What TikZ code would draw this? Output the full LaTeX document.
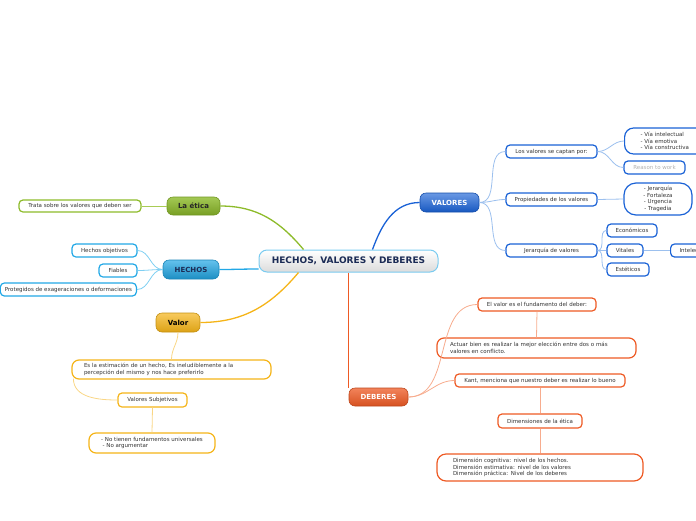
\documentclass[tikz,border=0pt]{standalone}
\usepackage{fontspec}
\setmainfont{DejaVu Sans}
\usepackage{xcolor}
\usetikzlibrary{positioning}
\definecolor{tinta}{HTML}{333333}
\definecolor{marino}{HTML}{1B2B55}
\definecolor{azul}{HTML}{1A62D6}
\definecolor{azulclaro}{HTML}{9CC0EE}
\definecolor{celeste}{HTML}{22A8E6}
\definecolor{celesteclaro}{HTML}{7FCFF2}
\definecolor{verde}{HTML}{8DBB2A}
\definecolor{verdeclaro}{HTML}{A9CC55}
\definecolor{ambar}{HTML}{F5B418}
\definecolor{ambarclaro}{HTML}{F9D685}
\definecolor{naranja}{HTML}{EE5A24}
\definecolor{naranjaclaro}{HTML}{F7AC8E}

\begin{document}
\begin{tikzpicture}[x=1pt, y=-1pt,
      raiz/.style={rectangle, rounded corners=8pt, draw=celeste!60, line width=1pt,
                   top color=white, bottom color=gray!28, text=marino,
                   font=\fontsize{9}{10}\selectfont\bfseries,
                   minimum width=179pt, minimum height=22pt},
      rama/.style={rectangle, rounded corners=6pt, line width=0.6pt,
                   font=\fontsize{7}{8}\selectfont\bfseries, minimum height=19pt},
      hoja/.style={rectangle, rounded corners=4pt, line width=1.2pt, fill=white,
                   text=tinta, font=\fontsize{5.5}{6.6}\selectfont,
                   minimum height=13pt, inner xsep=4.5pt, inner ysep=1pt},
      hojaazul/.style={hoja, draw=azul},
      hojaceleste/.style={hoja, draw=celeste},
      hojaverde/.style={hoja, draw=verde},
      hojaambar/.style={hoja, draw=ambar},
      hojanaranja/.style={hoja, draw=naranja},
      enlace/.style={line width=0.8pt}]

    \useasboundingbox (0,0) rectangle (696,520);

    % tema central y ramas
    \node[raiz] (root) at (348.5,261) {HECHOS, VALORES Y DEBERES};
    \node[rama, draw=azul!80!black, top color=azul!65, bottom color=azul!90!black,
          text=white, minimum width=59pt] (valores) at (449.5,202.5) {VALORES};
    \node[rama, draw=verde!80!black, top color=verde!80, bottom color=verde!85!black,
          text=black!85, minimum width=53pt, minimum height=18pt] (etica) at (193.5,206) {La ética};
    \node[rama, draw=celeste!80!black, top color=celeste!70, bottom color=celeste!85!black,
          text=marino, minimum width=56pt] (hechos) at (191,269.5) {HECHOS};
    \node[rama, draw=ambar!80!black, top color=ambar!70, bottom color=ambar!90!black,
          text=black, minimum width=44pt] (valor) at (178,322.5) {Valor};
    \node[rama, draw=naranja!80!black, top color=naranja!75, bottom color=naranja!90!black,
          text=white, minimum width=59pt, minimum height=18pt] (deberes) at (378.5,397) {DEBERES};

    \draw[azul, line width=1.3pt] ([xshift=24pt]root.north) to[out=70,in=180] (valores.west);
    \draw[verde, line width=1.3pt] (etica.east) to[out=0,in=130] ([xshift=-45pt]root.north);
    \draw[celeste, line width=1.3pt] (hechos.east) to[out=0,in=180] ([yshift=-8pt]root.west);
    \draw[ambar, line width=1.3pt] (valor.east) to[out=0,in=-130] ([xshift=-50pt]root.south);
    \draw[naranja, line width=1.3pt] (root.south) -- (root.south |- deberes.north);

    % VALORES
    \node[hojaazul, minimum width=91pt] (captan) at (551.5,151.5) {Los valores se captan por:};
    \node[hojaazul, minimum width=91pt] (prop) at (551.5,199.5) {Propiedades de los valores};
    \node[hojaazul, minimum width=91pt] (jerarq) at (551.5,250.5) {Jerarquía de valores};
    \node[hojaazul, rounded corners=9pt, anchor=west, text width=54pt, inner xsep=16pt,
          minimum height=26pt, align=left] (vias) at (624,141)
          {- Vía intelectual\\- Vía emotiva\\- Vía constructiva};
    \node[hojaazul, text=gray!60, minimum width=61pt] (reason) at (654.5,167.5) {Reason to work};
    \node[hojaazul, rounded corners=12pt, minimum width=68pt, minimum height=32pt,
          align=center] (props) at (658,199) {- Jerarquía\\- Fortaleza\\- Urgencia\\- Tragedia};
    \node[hojaazul, minimum width=50pt] (econ) at (632,230.5) {Económicos};
    \node[hojaazul, minimum width=36pt] (vitales) at (625,250.5) {Vitales};
    \node[hojaazul, minimum width=42pt] (estet) at (628,269.5) {Estéticos};
    \node[hojaazul, anchor=west, inner xsep=9pt] (intel) at (670,250.5) {Intelectuales};

    \draw[enlace, azulclaro] (valores.east) to[out=0,in=180] (captan.west);
    \draw[enlace, azulclaro] (valores.east) to[out=0,in=180] (prop.west);
    \draw[enlace, azulclaro] (valores.east) to[out=0,in=180] (jerarq.west);
    \draw[enlace, azulclaro] (captan.east) to[out=0,in=180] (vias.west);
    \draw[enlace, azulclaro] (captan.east) to[out=0,in=180] (reason.west);
    \draw[enlace, azulclaro] (prop.east) -- (props.west);
    \draw[enlace, azulclaro] (jerarq.east) to[out=0,in=180] (econ.west);
    \draw[enlace, azulclaro] (jerarq.east) to[out=0,in=180] (vitales.west);
    \draw[enlace, azulclaro] (jerarq.east) to[out=0,in=180] (estet.west);
    \draw[enlace, azulclaro] (vitales.east) -- (intel.west);

    % La ética
    \node[hojaverde, minimum width=122pt, minimum height=12pt] (trata) at (80,206)
          {Trata sobre los valores que deben ser};
    \draw[enlace, verdeclaro] (etica.west) -- (trata.east);

    % HECHOS
    \node[hojaceleste, minimum width=65pt] (objet) at (104.5,250.5) {Hechos objetivos};
    \node[hojaceleste, minimum width=38pt] (fiables) at (118,270.5) {Fiables};
    \node[hojaceleste, anchor=east] (proteg) at (137,289.5)
          {Protegidos de exageraciones o deformaciones};
    \draw[enlace, celesteclaro] (hechos.west) to[out=180,in=0] (objet.east);
    \draw[enlace, celesteclaro] (hechos.west) to[out=180,in=0] (fiables.east);
    \draw[enlace, celesteclaro] (hechos.west) to[out=180,in=0] (proteg.east);

    % Valor
    \node[hojaambar, rounded corners=7pt, text width=175pt, inner xsep=12pt,
          minimum height=19pt, align=left] (estim) at (171.5,369.5)
          {Es la estimación de un hecho, Es ineludiblemente a la\\percepción del mismo y nos hace preferirlo};
    \node[hojaambar, minimum width=69pt, minimum height=14pt] (subj) at (152.5,400) {Valores Subjetivos};
    \node[hojaambar, rounded corners=7pt, minimum width=126pt,
          minimum height=20pt, align=left] (nofund) at (152,443)
          {- No tienen fundamentos universales\\\hspace*{1.5pt}- No argumentar};
    \draw[enlace, ambarclaro] (valor.south) to[out=-90,in=90] (estim.north);
    \draw[enlace, ambarclaro] ([xshift=2pt,yshift=1pt]estim.south west) to[out=-90,in=180] (subj.west);
    \draw[enlace, ambarclaro] (subj.south) -- (nofund.north);

    % DEBERES
    \node[hojanaranja, minimum width=118pt] (elvalor) at (537,304.5) {El valor es el fundamento del deber:};
    \node[hojanaranja, rounded corners=7pt, text width=173pt, inner xsep=13pt,
          minimum height=20pt, align=left] (actuar) at (536.5,348)
          {Actuar bien es realizar la mejor elección entre dos o más\\valores en conflicto.};
    \node[hojanaranja, minimum width=170pt] (kant) at (540,380.5)
          {Kant, menciona que nuestro deber es realizar lo bueno};
    \node[hojanaranja, minimum width=84pt, minimum height=14pt] (dimens) at (540,421) {Dimensiones de la ética};
    \node[hojanaranja, rounded corners=9pt, text width=174pt, inner xsep=16pt,
          minimum height=27pt, align=left] (dimlist) at (540,467.5)
          {Dimensión cognitiva: nivel de los hechos.\\Dimensión estimativa: nivel de los valores\\Dimensión práctica: Nivel de los deberes};
    \draw[enlace, naranjaclaro] (deberes.east) to[out=0,in=180] (elvalor.west);
    \draw[enlace, naranjaclaro] (deberes.east) to[out=0,in=180] (kant.west);
    \draw[enlace, naranjaclaro] (elvalor.south) -- (actuar.north);
    \draw[enlace, naranjaclaro] (kant.south) -- (dimens.north);
    \draw[enlace, naranjaclaro] (dimens.south) -- (dimlist.north);
  \end{tikzpicture}
\end{document}
